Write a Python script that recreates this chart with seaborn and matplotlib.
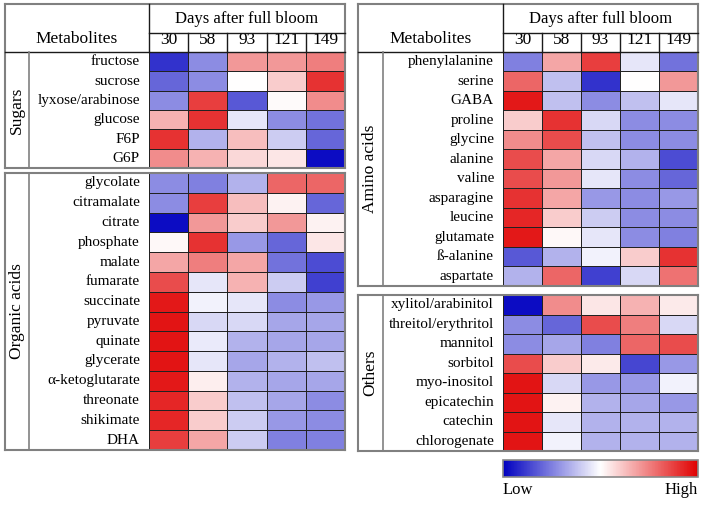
import numpy as np
import pandas as pd
import seaborn as sns
import matplotlib.pyplot as plt
from matplotlib.colors import LinearSegmentedColormap

plt.rcParams['font.family'] = ['Liberation Serif', 'DejaVu Serif']

days = ['30', '58', '93', '121', '149']

sugars = ['fructose', 'sucrose', 'lyxose/arabinose', 'glucose', 'F6P', 'G6P']
sugar_vals = [
    [-0.80, -0.45, 0.40, 0.40, 0.50],
    [-0.60, -0.45, 0.00, 0.20, 0.80],
    [-0.45, 0.75, -0.65, 0.02, 0.45],
    [0.30, 0.80, -0.10, -0.45, -0.55],
    [0.80, -0.30, 0.25, -0.20, -0.60],
    [0.45, 0.30, 0.15, 0.10, -0.95],
]

acids = ['glycolate', 'citramalate', 'citrate', 'phosphate', 'malate', 'fumarate',
         'succinate', 'pyruvate', 'quinate', 'glycerate', 'α-ketoglutarate',
         'threonate', 'shikimate', 'DHA']
acid_vals = [
    [-0.45, -0.50, -0.30, 0.60, 0.60],
    [-0.45, 0.75, 0.25, 0.05, -0.60],
    [-0.95, 0.40, 0.20, 0.40, 0.05],
    [0.03, 0.80, -0.40, -0.60, 0.10],
    [0.35, 0.50, 0.35, -0.55, -0.70],
    [0.70, -0.10, 0.30, -0.20, -0.75],
    [0.90, -0.05, -0.10, -0.45, -0.40],
    [0.92, -0.15, -0.15, -0.35, -0.35],
    [0.92, -0.08, -0.30, -0.35, -0.35],
    [0.92, -0.10, -0.35, -0.30, -0.25],
    [0.90, 0.07, -0.30, -0.35, -0.35],
    [0.85, 0.20, -0.25, -0.35, -0.45],
    [0.85, 0.20, -0.20, -0.40, -0.45],
    [0.75, 0.35, -0.20, -0.50, -0.50],
]

aminos = ['phenylalanine', 'serine', 'GABA', 'proline', 'glycine', 'alanine',
          'valine', 'asparagine', 'leucine', 'glutamate', 'ß-alanine', 'aspartate']
amino_vals = [
    [-0.50, 0.35, 0.75, -0.10, -0.55],
    [0.60, -0.25, -0.80, 0.00, 0.40],
    [0.90, -0.25, -0.45, -0.25, -0.10],
    [0.20, 0.80, -0.15, -0.45, -0.45],
    [0.45, 0.70, -0.25, -0.45, -0.45],
    [0.70, 0.35, -0.15, -0.30, -0.70],
    [0.70, 0.40, -0.10, -0.45, -0.60],
    [0.80, 0.35, -0.40, -0.45, -0.40],
    [0.85, 0.20, -0.20, -0.45, -0.45],
    [0.90, 0.03, -0.10, -0.45, -0.50],
    [-0.65, -0.30, -0.05, 0.20, 0.80],
    [-0.30, 0.60, -0.75, -0.15, 0.55],
]

others = ['xylitol/arabinitol', 'threitol/erythritol', 'mannitol', 'sorbitol',
          'myo-inositol', 'epicatechin', 'catechin', 'chlorogenate']
other_vals = [
    [-0.95, 0.45, 0.10, 0.30, 0.08],
    [-0.45, -0.60, 0.70, 0.50, -0.15],
    [-0.45, -0.35, -0.50, 0.60, 0.70],
    [0.70, 0.20, 0.08, -0.72, -0.40],
    [0.92, -0.15, -0.40, -0.40, -0.05],
    [0.92, 0.05, -0.30, -0.35, -0.40],
    [0.92, -0.10, -0.30, -0.30, -0.30],
    [0.92, -0.05, -0.30, -0.30, -0.30],
]

cmap = LinearSegmentedColormap.from_list('lowhigh', ['#0000c0', '#ffffff', '#e00000'])

W, H = 708, 505
fig = plt.figure(figsize=(W / 100, H / 100), dpi=100)


def px_axes(x0, y0, x1, y1):
    return fig.add_axes([x0 / W, 1 - y1 / H, (x1 - x0) / W, (y1 - y0) / H])


def heat(ax, names, vals, top=False, cbar_ax=None):
    df = pd.DataFrame(vals, index=names, columns=days)
    sns.heatmap(df, ax=ax, cmap=cmap, vmin=-1, vmax=1, linewidths=0.6,
                linecolor='#222222', cbar=cbar_ax is not None, cbar_ax=cbar_ax,
                cbar_kws={'orientation': 'horizontal'},
                xticklabels=days if top else False, yticklabels=names)
    ax.set_xlabel('')
    ax.set_ylabel('')
    ax.tick_params(axis='y', length=0, pad=6.5, labelsize=11, rotation=0)
    if top:
        ax.xaxis.tick_top()
        ax.tick_params(axis='x', length=0, pad=3, labelsize=12.5, rotation=0)


# heatmap blocks (pixel boxes)
ax_sug = px_axes(149, 52, 345, 168)
ax_acid = px_axes(149, 173, 345, 450)
ax_amino = px_axes(503, 52, 698, 286)
ax_oth = px_axes(503, 295, 698, 451)
cax = px_axes(503, 460, 698, 477)

heat(ax_sug, sugars, sugar_vals, top=True)
heat(ax_acid, acids, acid_vals)
heat(ax_amino, aminos, amino_vals, top=True)
heat(ax_oth, others, other_vals, cbar_ax=cax)

cbar = ax_oth.collections[0].colorbar
cbar.set_ticks([])
cbar.outline.set_edgecolor('#888888')
cbar.outline.set_linewidth(1.2)

# table frame overlay in pixel coordinates
bg = fig.add_axes([0, 0, 1, 1], zorder=5)
bg.set_xlim(0, W)
bg.set_ylim(H, 0)
bg.axis('off')

gray = '#808080'
dark = '#1a1a1a'


def seg(x0, y0, x1, y1, c, lw):
    bg.plot([x0, x1], [y0, y1], color=c, lw=lw, solid_capstyle='projecting')


def frame(x0, y0, x1, y1):
    for a in [(x0, y0, x1, y0), (x1, y0, x1, y1), (x1, y1, x0, y1), (x0, y1, x0, y0)]:
        seg(*a, gray, 1.5)


def header(x0, xd, x1):
    seg(xd, 4, xd, 52, dark, 1.0)
    seg(xd, 33, x1, 33, dark, 1.0)
    seg(x0, 52, x1, 52, dark, 1.0)
    step = (x1 - xd) / 5
    for k in range(1, 5):
        seg(xd + k * step, 33, xd + k * step, 52, dark, 1.0)
    bg.text((x0 + xd) / 2, 39, 'Metabolites', ha='center', va='center', fontsize=12.5)
    bg.text((xd + x1) / 2, 19, 'Days after full bloom', ha='center', va='center', fontsize=12)


# left panel
frame(5, 4, 345, 168)
header(5, 149, 345)
seg(29, 52, 29, 168, gray, 1.2)
bg.text(17, 110, 'Sugars', rotation=90, ha='center', va='center', fontsize=12.5)

frame(5, 173, 345, 450)
seg(29, 173, 29, 450, gray, 1.2)
bg.text(17, 311, 'Organic acids', rotation=90, ha='center', va='center', fontsize=12.5)

# right panel
frame(358, 4, 698, 286)
header(358, 503, 698)
seg(383, 52, 383, 286, gray, 1.2)
bg.text(370, 169, 'Amino acids', rotation=90, ha='center', va='center', fontsize=12.5)

frame(358, 295, 698, 451)
seg(383, 295, 383, 451, gray, 1.2)
bg.text(370, 373, 'Others', rotation=90, ha='center', va='center', fontsize=12.5)

bg.text(503, 490, 'Low', ha='left', va='center', fontsize=12)
bg.text(698, 490, 'High', ha='right', va='center', fontsize=12)

fig.savefig('out.png', dpi=100)
